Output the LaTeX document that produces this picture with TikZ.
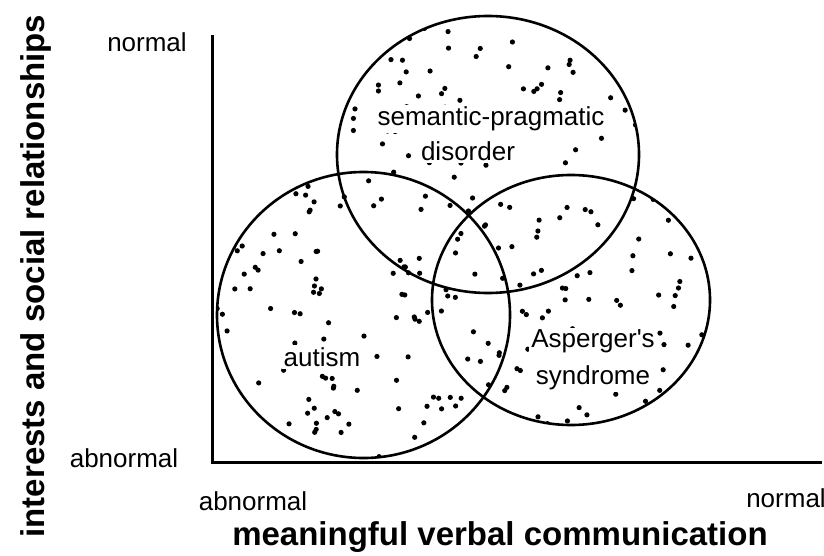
\documentclass[tikz,border=0pt]{standalone}
\usepackage{fontspec}
\setmainfont{Liberation Sans}
\usetikzlibrary{positioning}

\begin{document}
\begin{tikzpicture}[
                    x=0.5pt, y=-0.5pt,
                    venn/.style={draw=black, line width=1.3pt},
                    axis/.style={draw=black, line width=1.5pt},
                    lbl/.style={font=\fontsize{13}{18.5}\selectfont, inner sep=1pt},
                    area/.style={lbl, fill=white, align=center},
                    axistitle/.style={font=\fontsize{16.5}{19}\selectfont\bfseries, inner sep=0pt}
                ]
                    \useasboundingbox (0,0) rectangle (824,556);

                    \coordinate (spd) at (488,154.5);
                    \coordinate (aut) at (363.5,315);
                    \coordinate (asp) at (571,300);

                    \pgfmathsetseed{4217}
                    \begin{scope}
                        \clip (spd) ellipse [x radius=75.5pt, y radius=69.25pt]
                              (aut) ellipse [x radius=73.25pt, y radius=71.5pt]
                              (asp) ellipse [x radius=69.5pt, y radius=62.5pt];
                        \foreach \k in {1,...,340}{
                            \fill ({217+493*rnd},{16+442*rnd}) circle [radius=1.3pt];
                        }
                    \end{scope}

                    \draw[venn] (spd) ellipse [x radius=75.5pt, y radius=69.25pt];
                    \draw[venn] (aut) ellipse [x radius=73.25pt, y radius=71.5pt];
                    \draw[venn] (asp) ellipse [x radius=69.5pt, y radius=62.5pt];

                    \coordinate (ytop) at (212,35);
                    \coordinate (origin) at (212,462);
                    \coordinate (xend) at (822,462);
                    \draw[axis] (ytop) -- (origin) -- (xend);

                    \node[area] (spdtop) at (491,119) {semantic-pragmatic};
                    \node[area] (spdbot) at (468,151) {disorder};
                    \node[area] (autlbl) at (322,357) {autism};
                    \node[area] (asplbl) at (593,360) {Asperger\textquotesingle s\\syndrome};

                    \node[lbl] (ynormal) at (147,42) {normal};
                    \node[lbl] (yabnormal) at (124,458) {abnormal};
                    \node[lbl] (xabnormal) at (253,501) {abnormal};
                    \node[lbl] (xnormal) at (786,498) {normal};

                    \node[axistitle] (xtitle) at (500,537) {meaningful verbal communication};
                    \node[axistitle, rotate=90] (ytitle) at (36,276) {interests and social relationships};
                \end{tikzpicture}
\end{document}
